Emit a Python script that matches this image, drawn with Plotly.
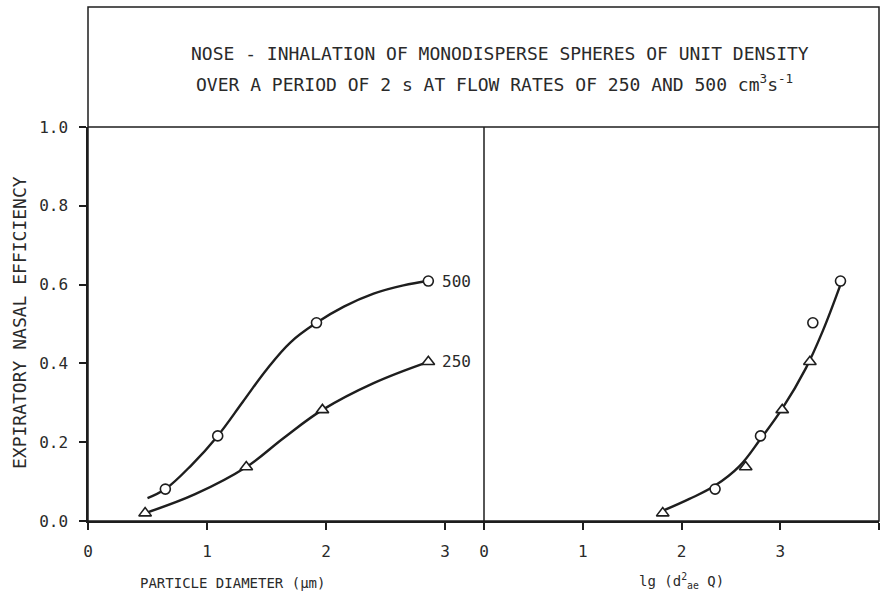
import plotly.graph_objects as go

# Measured points: particle diameter (um) vs expiratory nasal efficiency
d_500 = [0.65, 1.09, 1.92, 2.86]
eff_500 = [0.081, 0.216, 0.503, 0.609]
d_250 = [0.48, 1.33, 1.97, 2.86]
eff_250 = [0.020, 0.137, 0.282, 0.404]

# Same measurements against lg(d_ae^2 Q)
lg_500 = [2.34, 2.80, 3.33, 3.61]
lg_250 = [1.81, 2.65, 3.02, 3.30]

# Fitted curves (nodes)
fit500_x = [0.50, 0.65, 0.87, 1.09, 1.30, 1.50, 1.70, 1.92, 2.15, 2.40, 2.65, 2.86]
fit500_y = [0.058, 0.081, 0.142, 0.216, 0.302, 0.384, 0.453, 0.503, 0.544,
            0.577, 0.598, 0.609]
fit250_x = [0.50, 0.90, 1.33, 1.65, 1.97, 2.40, 2.86]
fit250_y = [0.022, 0.068, 0.137, 0.212, 0.282, 0.350, 0.404]
fitlg_x = [1.83, 2.08, 2.34, 2.59, 2.80, 3.02, 3.26, 3.43, 3.61]
fitlg_y = [0.028, 0.056, 0.090, 0.140, 0.208, 0.285, 0.388, 0.482, 0.600]

x_ticks_d = [0, 1, 2, 3]
x_ticks_lg = [0, 1, 2, 3, 4]
y_ticks = [0.0, 0.2, 0.4, 0.6, 0.8, 1.0]
y_labels = ["0.0", "0.2", "0.4", "0.6", "0.8", "1.0"]

INK = "#1e1e1e"
TEXT = "#2a2a2a"
FONT = "DejaVu Sans Mono"

# pixel geometry of the plotting frame
W, H = 881, 606
L, R, T, B = 88, 2, 127, 85
PW, PH = W - L - R, H - T - B


def px(x):
    return (x - L) / PW


def py(y):
    return (H - B - y) / PH


fig = go.Figure()

line_style = dict(color=INK, width=2.4, shape="spline", smoothing=1.1)
for xs, ys, xa in [(fit500_x, fit500_y, "x"), (fit250_x, fit250_y, "x"),
                   (fitlg_x, fitlg_y, "x2")]:
    fig.add_trace(go.Scatter(x=xs, y=ys, mode="lines", line=line_style,
                             xaxis=xa, yaxis="y", hoverinfo="skip",
                             showlegend=False))

circle = dict(symbol="circle", size=10, color="white",
              line=dict(color=INK, width=1.6))
triangle = dict(symbol="triangle-up", size=11, color="white",
                line=dict(color=INK, width=1.6))

fig.add_trace(go.Scatter(x=d_500, y=eff_500, mode="markers", marker=circle,
                         xaxis="x", yaxis="y", name="500", showlegend=False))
fig.add_trace(go.Scatter(x=d_250, y=eff_250, mode="markers", marker=triangle,
                         xaxis="x", yaxis="y", name="250", showlegend=False))
fig.add_trace(go.Scatter(x=lg_500, y=eff_500, mode="markers", marker=circle,
                         xaxis="x2", yaxis="y", name="500", showlegend=False))
fig.add_trace(go.Scatter(x=lg_250, y=eff_250, mode="markers", marker=triangle,
                         xaxis="x2", yaxis="y", name="250", showlegend=False))

split = (484 - L) / PW
tick_font = dict(family=FONT, size=16, color=TEXT)
axis_common = dict(showgrid=False, zeroline=False, showline=True,
                   linecolor=INK, linewidth=1.5, ticks="outside", ticklen=7,
                   tickwidth=1.5, tickcolor=INK, tickfont=tick_font,
                   ticklabelstandoff=8)

fig.update_layout(
    width=W, height=H,
    margin=dict(l=L, r=R, t=T, b=B),
    paper_bgcolor="white", plot_bgcolor="white",
    xaxis=dict(domain=[0, split], range=[0, (484 - L) / 119],
               tickvals=x_ticks_d, anchor="y", **axis_common),
    xaxis2=dict(domain=[split, 1], range=[0, 4], tickvals=x_ticks_lg,
                anchor="y", **axis_common),
    yaxis=dict(range=[0, 1], tickvals=y_ticks, ticktext=y_labels,
               **axis_common),
)

# frame: title box on top, divider between the two panels
top = py(7)
frame = dict(color=INK, width=1.5)
fig.add_shape(type="rect", xref="paper", yref="paper", x0=0, x1=1,
              y0=0, y1=top, line=frame)
fig.add_shape(type="line", xref="paper", yref="paper", x0=0, x1=1,
              y0=1, y1=1, line=frame)
fig.add_shape(type="line", xref="paper", yref="paper", x0=split, x1=split,
              y0=0, y1=1, line=frame)


def label(text, x, y, size, angle=0, xanchor="center"):
    fig.add_annotation(xref="paper", yref="paper", x=px(x), y=py(y),
                       text=text, textangle=angle, showarrow=False,
                       xanchor=xanchor, yanchor="middle",
                       font=dict(family=FONT, size=size, color=TEXT))


label("NOSE - INHALATION OF MONODISPERSE SPHERES OF UNIT DENSITY", 500, 53, 18)
label("OVER A PERIOD OF 2 s AT FLOW RATES OF 250 AND 500 cm<sup>3</sup>s<sup>-1</sup>",
      494, 83, 18)
label("EXPIRATORY NASAL EFFICIENCY", 19, 323, 18, angle=-90)
label("PARTICLE DIAMETER (\u00b5m)", 232, 583, 14)
label("lg (d<sup>2</sup><sub>ae</sub> Q)", 681, 581, 14)

# series labels at the ends of the left-panel curves
for text, yv in [("500", eff_500[-1]), ("250", eff_250[-1])]:
    fig.add_annotation(xref="x", yref="y", x=d_500[-1], y=yv, text=text,
                       xanchor="left", xshift=12, showarrow=False,
                       font=dict(family=FONT, size=16, color=TEXT))

fig.write_html("out.html")
